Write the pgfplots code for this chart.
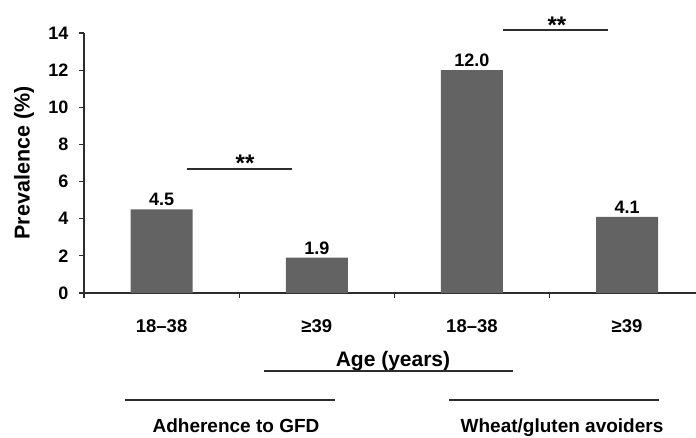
\documentclass[border=0pt]{standalone}
\usepackage{fontspec}
\setmainfont{Liberation Sans}
\usepackage{pgfplots}
\pgfplotsset{compat=1.18}
\definecolor{barc}{RGB}{99,99,99}
\definecolor{axc}{RGB}{45,45,45}
\begin{document}
\begin{tikzpicture}[x=1pt,y=1pt]
\begin{axis}[
  at={(84pt,144pt)}, anchor=south west,
  scale only axis, width=612pt, height=260pt,
  xmin=-0.5, xmax=3.444, ymin=0, ymax=14,
  axis x line*=bottom, axis y line*=left,
  axis line style={axc, line width=1.2pt},
  ytick={0,2,...,14},
  xtick={-0.5,0.5,1.5,2.5}, xticklabels={},
  tick style={axc, line width=1.2pt},
  tick align=outside, major tick length=5pt,
  yticklabel style={font=\fontsize{18}{20}\selectfont\bfseries, xshift=-7pt},
  /pgf/number format/assume math mode=true,
  clip=false,
  ybar, bar width=62pt,
  nodes near coords,
  every node near coord/.append style={font=\fontsize{18}{20}\selectfont\bfseries, black,
     /pgf/number format/.cd, fixed, fixed zerofill, precision=1, assume math mode=true},
]
\addplot[fill=barc, draw=none] coordinates {(0,4.5) (1,1.9) (2,12.0) (3,4.1)};
% category labels
\node[anchor=base, font=\fontsize{18.5}{20}\selectfont\bfseries] at (axis cs:0,0) [yshift=-39pt] {18--38};
\node[anchor=base, font=\fontsize{18.5}{20}\selectfont\bfseries] at (axis cs:1,0) [yshift=-39pt] {≥39};
\node[anchor=base, font=\fontsize{18.5}{20}\selectfont\bfseries] at (axis cs:2,0) [yshift=-39pt] {18--38};
\node[anchor=base, font=\fontsize{18.5}{20}\selectfont\bfseries] at (axis cs:3,0) [yshift=-39pt] {≥39};
% significance
\draw[axc, line width=1.2pt] (axis cs:0.164,6.68) -- (axis cs:0.841,6.68);
\node[anchor=base, font=\fontsize{24}{26}\selectfont\bfseries] at (axis cs:0.538,6.68) [yshift=-3pt] {**};
\draw[axc, line width=1.2pt] (axis cs:2.20,14.16) -- (axis cs:2.877,14.16);
\node[anchor=base, font=\fontsize{24}{26}\selectfont\bfseries] at (axis cs:2.548,14.16) [yshift=-3pt] {**};
\end{axis}
\node[rotate=90, font=\fontsize{21.5}{24}\selectfont\bfseries] at (24,274) {Prevalence (\%)};
\node[anchor=base, font=\fontsize{21}{24}\selectfont\bfseries] at (393,71) {Age (years)};
\draw[axc, line width=1.2pt] (264,66) -- (513,66);
\draw[axc, line width=1.2pt] (125,37) -- (335,37);
\draw[axc, line width=1.2pt] (449,37) -- (659,37);
\node[anchor=base, font=\fontsize{19}{22}\selectfont\bfseries] at (236,5) {Adherence to GFD};
\node[anchor=base, font=\fontsize{19}{22}\selectfont\bfseries] at (562,5) {Wheat/gluten avoiders};
\pgfresetboundingbox
\path[use as bounding box] (0,0) rectangle (696,437);
\end{tikzpicture}
\end{document}
